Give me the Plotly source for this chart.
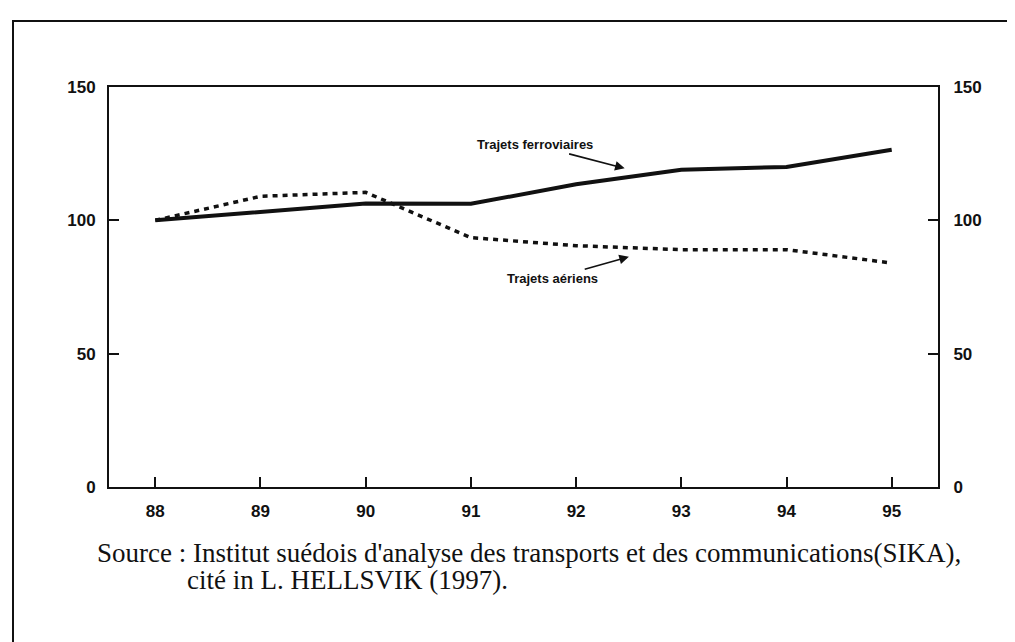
import plotly.graph_objects as go

# ── Data (index, 1988 = 100) ─────────────────────────────────────────────────
YEARS = [88, 89, 90, 91, 92, 93, 94, 95]
YEAR_LABELS = ["88", "89", "90", "91", "92", "93", "94", "95"]
RAIL = [100, 103.2, 106.3, 106.2, 113.5, 119.0, 120.0, 126.5]
AIR = [100, 109.0, 110.5, 93.5, 90.5, 89.0, 89.0, 84.0]
Y_TICKS = [0, 50, 100, 150]

INK = "#111111"
TICK_FONT = dict(family="'Liberation Sans Narrow', 'Arial Narrow', 'Liberation Sans', sans-serif",
                 size=17, color=INK, weight="bold")
LABEL_FONT = dict(family="'Liberation Sans', Arial, sans-serif", size=13, color=INK, weight="bold")
SERIF = dict(family="'Liberation Serif', 'Times New Roman', serif", size=27, color=INK)

fig = go.Figure()

fig.add_trace(go.Scatter(
    x=YEARS, y=RAIL, mode="lines", name="Trajets ferroviaires",
    line=dict(color=INK, width=4),
))
fig.add_trace(go.Scatter(
    x=YEARS, y=AIR, mode="lines", name="Trajets aériens",
    line=dict(color=INK, width=3.5, dash="5px,5px"),
))
# invisible trace so the right-hand axis is drawn
fig.add_trace(go.Scatter(
    x=YEARS, y=RAIL, mode="lines", yaxis="y2", hoverinfo="skip",
    line=dict(color="rgba(0,0,0,0)", width=0), showlegend=False,
))

# labels with arrows
fig.add_annotation(
    x=92.48, y=119.3, text="Trajets ferroviaires",
    ax=-92, ay=-24, showarrow=True, arrowhead=2, arrowsize=1.2, arrowwidth=1.6,
    arrowcolor=INK, standoff=2, font=LABEL_FONT,
)
fig.add_annotation(
    x=92.52, y=86.5, text="Trajets aériens",
    ax=-78, ay=22, showarrow=True, arrowhead=2, arrowsize=1.2, arrowwidth=1.6,
    arrowcolor=INK, standoff=2, font=LABEL_FONT,
)

# source lines
fig.add_annotation(
    xref="paper", yref="paper", x=(87 - 101) / 829, y=(479 - 545) / 400,
    xanchor="left", yanchor="middle", showarrow=False,
    text="Source : Institut suédois d'analyse des transports et des communications(SIKA),",
    font=SERIF,
)
fig.add_annotation(
    xref="paper", yref="paper", x=(177 - 101) / 829, y=(479 - 572) / 400,
    xanchor="left", yanchor="middle", showarrow=False,
    text="cité in L. HELLSVIK (1997).",
    font=SERIF,
)

# outer frame of the scanned figure
fig.add_shape(
    type="rect", xref="paper", yref="paper",
    x0=(5 - 101) / 829, x1=(1010 - 101) / 829,
    y0=(479 - 660) / 400, y1=(479 - 13) / 400,
    line=dict(color=INK, width=2),
)

fig.update_layout(
    width=1015, height=642,
    paper_bgcolor="white", plot_bgcolor="white",
    margin=dict(l=101, r=85, t=79, b=163),
    showlegend=False,
    xaxis=dict(
        range=[87.56, 95.44], tickvals=YEARS, ticktext=YEAR_LABELS,
        ticks="inside", ticklen=10, tickwidth=1.5, tickcolor=INK,
        showline=True, linecolor=INK, linewidth=2, mirror=True,
        showgrid=False, zeroline=False, tickfont=TICK_FONT, ticklabelstandoff=8,
    ),
    yaxis=dict(
        range=[0, 150], tickvals=Y_TICKS,
        ticks="inside", ticklen=10, tickwidth=1.5, tickcolor=INK,
        showline=True, linecolor=INK, linewidth=2,
        showgrid=False, zeroline=False, tickfont=TICK_FONT, ticklabelstandoff=8,
    ),
    yaxis2=dict(
        range=[0, 150], tickvals=Y_TICKS, overlaying="y", side="right",
        ticks="inside", ticklen=10, tickwidth=1.5, tickcolor=INK,
        showline=True, linecolor=INK, linewidth=2,
        showgrid=False, zeroline=False, tickfont=TICK_FONT, ticklabelstandoff=10,
    ),
)

fig.write_html("out.html")
